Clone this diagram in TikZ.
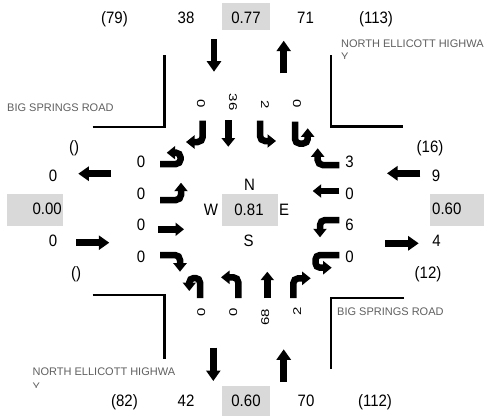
\documentclass[tikz,border=0pt]{standalone}
\usepackage{fontspec}
\setmainfont{Liberation Sans}
\usepackage{graphicx}
\usetikzlibrary{arrows.meta}
\definecolor{boxgray}{RGB}{217,217,217}
\definecolor{roadgray}{RGB}{96,96,96}
\newcommand\tallt[1]{\scalebox{1}[1.1]{#1}}
\newcommand\flatt[1]{\scalebox{1}[0.75]{#1}}
\begin{document}
\begin{tikzpicture}[x=1pt,y=-1pt,
  num/.style={font=\fontsize{15}{17}\selectfont, inner sep=0pt, text height=11.8pt, text depth=0pt},
  lanev/.style={font=\fontsize{15}{17}\selectfont, inner sep=0pt, text height=8pt, text depth=0pt},
  road/.style={font=\fontsize{11}{13}\selectfont, text=roadgray, inner sep=0pt, text height=7.9pt, text depth=0pt, anchor=west},
  gbox/.style={fill=boxgray, draw=none},
  bigarr/.style={line width=6.5pt, -{Triangle[width=14pt,length=10.5pt]}},
  turnarr/.style={line width=6.5pt, rounded corners=5pt, -{Triangle[width=13pt,length=8.5pt]}},
  uarr/.style={line width=6.5pt, rounded corners=4.5pt, -{Triangle[width=13pt,length=8.5pt]}},
  cornerln/.style={line width=2.2pt}]
\fill[white] (0,0) rectangle (484,416);
\useasboundingbox (0,0) rectangle (484,416);

% gray boxes
\fill[gbox] (222,3) rectangle (270,30);
\fill[gbox] (222,386) rectangle (270,416);
\fill[gbox] (7,194) rectangle (63,226);
\fill[gbox] (430,194) rectangle (484,226);
\fill[gbox] (222,194) rectangle (278,226);

% top row
\node[num] (t79) at (114.5,17.5) {\tallt{(79)}};
\node[num] (t38) at (186,17.5) {\tallt{38}};
\node[num] (t077) at (246,17.5) {\tallt{0.77}};
\node[num] (t71) at (305.5,17.5) {\tallt{71}};
\node[num] (t113) at (376,17.5) {\tallt{(113)}};

% bottom row
\node[num] (b82) at (124.5,400.5) {\tallt{(82)}};
\node[num] (b42) at (186,400.5) {\tallt{42}};
\node[num] (b060) at (246,400.5) {\tallt{0.60}};
\node[num] (b70) at (306,400.5) {\tallt{70}};
\node[num] (b112) at (375,400.5) {\tallt{(112)}};

% left side
\node[num] (lp1) at (74,146.5) {\tallt{()}};
\node[num] (l0a) at (53,176) {\tallt{0}};
\node[num, anchor=east] (l000) at (62,209) {\tallt{0.00}};
\node[num] (l0b) at (53,240.5) {\tallt{0}};
\node[num] (lp2) at (76,272.5) {\tallt{()}};

% right side
\node[num] (r16) at (430,146.5) {\tallt{(16)}};
\node[num] (r9) at (436,176) {\tallt{9}};
\node[num, anchor=west] (r060) at (432,209) {\tallt{0.60}};
\node[num] (r4) at (436.5,240.5) {\tallt{4}};
\node[num] (r12) at (428,272.5) {\tallt{(12)}};

% center
\node[num] (c081) at (249,209.5) {\tallt{0.81}};
\node[num] (cN) at (249.5,185) {\tallt{N}};
\node[num] (cW) at (211,209.5) {\tallt{W}};
\node[num] (cE) at (284,209.5) {\tallt{E}};
\node[num] (cS) at (248.5,241) {\tallt{S}};

% left lane numbers
\node[num] (ll1) at (141,161.5) {\tallt{0}};
\node[num] (ll2) at (141,193.5) {\tallt{0}};
\node[num] (ll3) at (141,225) {\tallt{0}};
\node[num] (ll4) at (141,256.5) {\tallt{0}};

% right lane numbers
\node[num] (rl1) at (349.5,162) {\tallt{3}};
\node[num] (rl2) at (349.5,193.5) {\tallt{0}};
\node[num] (rl3) at (349.5,225) {\tallt{6}};
\node[num] (rl4) at (349.5,256.5) {\tallt{0}};

% top lane numbers (rotated)
\node[lanev, rotate=-90] (tl1) at (201,103.5) {\flatt{0}};
\node[lanev, rotate=-90] (tl2) at (233,102) {\flatt{36}};
\node[lanev, rotate=-90] (tl3) at (265,104.5) {\flatt{2}};
\node[lanev, rotate=-90] (tl4) at (297,103.5) {\flatt{0}};

% bottom lane numbers (rotated)
\node[lanev, rotate=90] (bl1) at (201,312.5) {\flatt{0}};
\node[lanev, rotate=90] (bl2) at (233,312.5) {\flatt{0}};
\node[lanev, rotate=90] (bl3) at (265,317) {\flatt{68}};
\node[lanev, rotate=90] (bl4) at (297,311.5) {\flatt{2}};

% road names
\node[road] (bsr1) at (7,108) {BIG SPRINGS ROAD};
\node[road] (bsr2) at (337,311.5) {BIG SPRINGS ROAD};
\node[road] (neh1) at (341,43.3) {NORTH ELLICOTT HIGHWA};
\begin{scope}
\clip (330,49) rectangle (484,58.5);
\node[road] (neh1y) at (341,57) {Y};
\end{scope}
\node[road] (neh2) at (32.5,372) {NORTH ELLICOTT HIGHWA};
\begin{scope}
\clip (20,378) rectangle (200,387.5);
\node[road] (neh2y) at (32.5,387) {Y};
\end{scope}

% corner lines
\draw[cornerln] (92.7,127) -- (164.5,127) -- (164.5,55);
\draw[cornerln] (331,55) -- (331,126.5) -- (403,126.5);
\draw[cornerln] (92.7,295) -- (164.5,295) -- (164.5,359.3);
\draw[cornerln] (404,298) -- (331,298) -- (331,369.3);

% big approach arrows
\draw[bigarr] (214,39.3) -- (214,71.7);
\draw[bigarr] (283.7,73.3) -- (283.7,40.7);
\draw[bigarr] (111,173.7) -- (78.3,173.7);
\draw[bigarr] (76,242.7) -- (109.3,242.7);
\draw[bigarr] (420.3,173.3) -- (387,173.3);
\draw[bigarr] (385.3,243.3) -- (418.7,243.3);
\draw[bigarr] (213.3,347.7) -- (213.3,381);
\draw[bigarr] (283.7,382) -- (283.7,349.3);

% top approach turn arrows
\draw[turnarr] (202.7,120.5) -- (202.7,142) -- (186,142);
\draw[turnarr] (228.3,120) -- (228.3,146.7);
\draw[turnarr] (260,120.5) -- (260,141) -- (276,141);
\draw[uarr] (295,121.7) -- (295,143.5) -- (307.7,143.5) -- (307.7,128.3);

% left approach turn arrows
\draw[uarr] (160,164) -- (180.5,164) -- (180.5,152.7) -- (166.7,152.7);
\draw[turnarr] (160,200) -- (181,200) -- (181,182.7);
\draw[turnarr] (158.3,229.3) -- (184,229.3);
\draw[turnarr] (160,255) -- (180,255) -- (180,271.7);

% right approach turn arrows
\draw[turnarr] (339.3,165) -- (317.7,165) -- (317.7,148.3);
\draw[turnarr] (339.3,191) -- (312.7,191);
\draw[turnarr] (339.3,220) -- (320,220) -- (320,237.3);
\draw[uarr] (339.3,255) -- (315.5,255) -- (315.5,267.7) -- (331.7,267.7);

% bottom approach turn arrows
\draw[uarr] (200,298) -- (200,278) -- (189.3,278) -- (189.3,291);
\draw[turnarr] (238.3,298) -- (238.3,277.3) -- (221,277.3);
\draw[turnarr] (267.3,298) -- (267.3,271.7);
\draw[turnarr] (293.3,298) -- (293.3,278.3) -- (310.7,278.3);
\end{tikzpicture}
\end{document}
